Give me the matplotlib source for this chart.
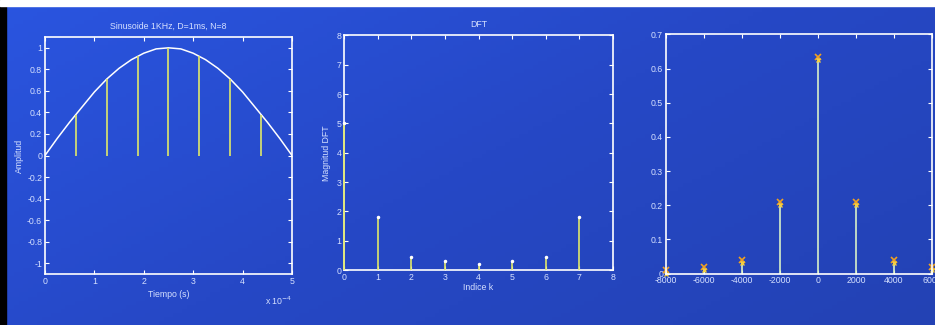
import numpy as np
import matplotlib.pyplot as plt
from matplotlib.colors import LinearSegmentedColormap

plt.rcParams['font.family'] = ['Liberation Sans', 'DejaVu Sans']
plt.rcParams['axes.unicode_minus'] = False

# Sinusoide (tiempo en unidades de 1e-4 s)
t_curve = [0, 0.25, 0.5, 0.75, 1.0, 1.25, 1.5, 1.75, 2.0, 2.25, 2.5,
           2.75, 3.0, 3.25, 3.5, 3.75, 4.0, 4.25, 4.5, 4.75, 5.0]
x_curve = [0, 0.16, 0.31, 0.45, 0.59, 0.71, 0.81, 0.89, 0.95, 0.99, 1.0,
           0.99, 0.95, 0.89, 0.81, 0.71, 0.59, 0.45, 0.31, 0.16, 0]
t_samp = [0, 0.625, 1.25, 1.875, 2.5, 3.125, 3.75, 4.375]
x_samp = [0, 0.38, 0.71, 0.92, 1.0, 0.92, 0.71, 0.38]
amp_ticks = [-1, -0.8, -0.6, -0.4, -0.2, 0, 0.2, 0.4, 0.6, 0.8, 1]
amp_labels = ['-1', '-0.8', '-0.6', '-0.4', '-0.2', '0', '0.2', '0.4', '0.6', '0.8', '1']

# DFT
k = [0, 1, 2, 3, 4, 5, 6, 7]
mag = [5.03, 1.8, 0.45, 0.3, 0.2, 0.3, 0.45, 1.8]

# Espectro
freq = [-8000, -6000, -4000, -2000, 0, 2000, 4000, 6000]
spec = [0.01, 0.02, 0.04, 0.21, 0.635, 0.21, 0.04, 0.02]
spec_ticks = [0, 0.1, 0.2, 0.3, 0.4, 0.5, 0.6, 0.7]
spec_labels = ['0', '0.1', '0.2', '0.3', '0.4', '0.5', '0.6', '0.7']

txt = '#d5e0ff'
stemc = '#dfe86a'
fs = 6.3

fig = plt.figure(figsize=(9.35, 3.25), dpi=100)

# fondo degradado
bg = fig.add_axes([0, 0, 1, 1])
cmap = LinearSegmentedColormap.from_list('bg', ['#2a55e0', '#2648c6', '#2342b4'])
gx, gy = np.meshgrid(np.linspace(0, 1, 200), np.linspace(0, 1, 80))
bg.imshow(0.6 * gx + 0.4 * gy, cmap=cmap, aspect='auto', extent=[0, 1, 0, 1], origin='upper')
bg.add_patch(plt.Rectangle((0, 0), 6 / 935, 1, color='black'))
bg.add_patch(plt.Rectangle((0, 1 - 6 / 325), 1, 6 / 325, color='white'))
bg.set_xlim(0, 1)
bg.set_ylim(0, 1)
bg.axis('off')


def style(ax):
    ax.set_facecolor('none')
    for s in ax.spines.values():
        s.set_color('white')
        s.set_linewidth(1.2)
    ax.tick_params(direction='in', colors='white', labelcolor=txt, labelsize=fs,
                   top=True, right=True, length=3, width=0.8, pad=2)


ax1 = fig.add_axes([0.0481, 0.157, 0.2642, 0.729])
style(ax1)
ax1.plot(t_curve, x_curve, color='white', lw=1.1)
ax1.vlines(t_samp, 0, x_samp, color=stemc, lw=1.2)
ax1.set_xlim(0, 5)
ax1.set_ylim(-1.1, 1.1)
ax1.set_xticks(range(6))
ax1.set_yticks(amp_ticks)
ax1.set_yticklabels(amp_labels)
ax1.set_title('Sinusoide 1KHz, D=1ms, N=8', color=txt, fontsize=fs, pad=6)
ax1.set_xlabel('Tiempo (s)', color=txt, fontsize=fs, labelpad=3)
ax1.set_ylabel('Amplitud', color=txt, fontsize=fs, labelpad=2)
ax1.text(1.0, -0.085, 'x 10$^{-4}$', transform=ax1.transAxes, color=txt,
         fontsize=fs, ha='right', va='top')

ax2 = fig.add_axes([0.368, 0.169, 0.2876, 0.722])
style(ax2)
ax2.vlines(k, 0, mag, color=stemc, lw=1.2, zorder=3, clip_on=False)
ax2.plot(k, mag, ls='none', marker='.', ms=3, color='white', zorder=4, clip_on=False)
ax2.set_xlim(0, 8)
ax2.set_ylim(0, 8)
ax2.set_xticks(range(9))
ax2.set_yticks(range(9))
ax2.set_title('DFT', color=txt, fontsize=fs, pad=6)
ax2.set_xlabel('Indice k', color=txt, fontsize=fs, labelpad=1)
ax2.set_ylabel('Magnitud DFT', color=txt, fontsize=fs, labelpad=4)

ax3 = fig.add_axes([0.7123, 0.158, 0.2845, 0.736])
style(ax3)
ax3.vlines(freq, 0, spec, color='#d8f0c8', lw=1.2)
ax3.plot(freq, spec, ls='none', marker='x', ms=4, mew=1.2, color='#f0a020', clip_on=False)
ax3.plot(freq, [v - 0.01 for v in spec], ls='none', marker='x', ms=3, mew=1.0,
         color='#f5d040', clip_on=False)
ax3.set_xlim(-8000, 6000)
ax3.set_ylim(0, 0.7)
ax3.set_xticks(freq)
ax3.set_yticks(spec_ticks)
ax3.set_yticklabels(spec_labels)

fig.savefig('out.png', dpi=100)
